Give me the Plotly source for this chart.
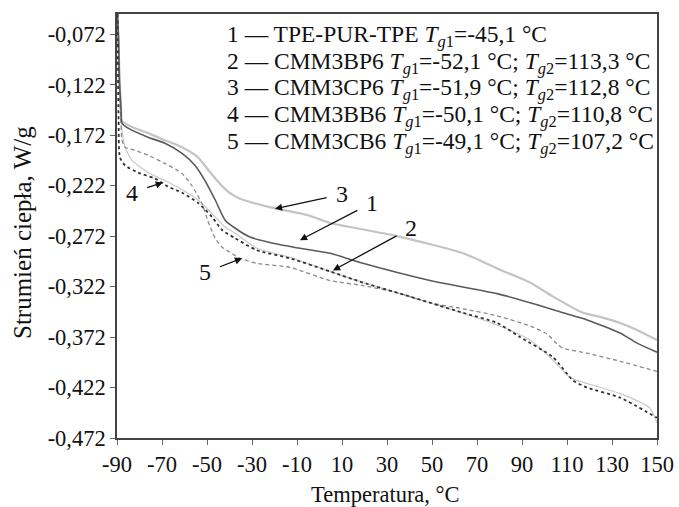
import plotly.graph_objects as go

# ---- data ----
x1 = [-89.8,-89.3,-88.9,-88.2,-87.8,-85.1,-76.2,-68.7,-61.1,-55.3,-50.9,-46.4,-42.0,-37.6,-30.9,-20.7,-8.7,4.7,19.3,49.1,78.9,93.6,108.2,118.9,133.6,141.1,150]
y1 = [-0.052,-0.078,-0.117,-0.147,-0.160,-0.165,-0.174,-0.180,-0.190,-0.202,-0.217,-0.236,-0.256,-0.264,-0.273,-0.279,-0.284,-0.289,-0.299,-0.316,-0.329,-0.338,-0.348,-0.355,-0.368,-0.378,-0.387]

x2 = [-89.8,-89.3,-88.9,-88.2,-87.8,-86.4,-83.3,-76.2,-68.7,-61.1,-54.0,-46.4,-42.0,-37.6,-27.8,-13.1,4.7,19.3,49.1,78.9,93.6,103.8,111.3,118.9,133.6,146.7,150]
y2 = [-0.052,-0.088,-0.127,-0.155,-0.167,-0.184,-0.197,-0.209,-0.217,-0.226,-0.236,-0.253,-0.263,-0.269,-0.284,-0.293,-0.307,-0.318,-0.338,-0.360,-0.375,-0.395,-0.412,-0.418,-0.428,-0.442,-0.457]

x3 = [-89.8,-89.3,-88.9,-88.2,-87.8,-83.3,-76.2,-68.7,-61.1,-54.0,-49.6,-45.1,-40.7,-35.3,-20.7,-5.6,4.7,13.6,34.4,63.8,78.9,93.6,103.8,117.1,124.7,133.6,141.1,150]
y3 = [-0.052,-0.078,-0.117,-0.145,-0.158,-0.164,-0.170,-0.177,-0.184,-0.194,-0.206,-0.218,-0.228,-0.235,-0.244,-0.251,-0.259,-0.263,-0.272,-0.289,-0.304,-0.318,-0.332,-0.348,-0.352,-0.358,-0.365,-0.375]

x4 = [-89.8,-89.6,-89.3,-88.7,-86.4,-80.7,-73.1,-67.3,-61.1,-54.0,-47.8,-43.3,-37.6,-27.8,-13.1,4.7,19.3,34.4,49.1,63.8,78.9,89.1,103.8,112.7,118.9,133.6,150]
y4 = [-0.052,-0.098,-0.157,-0.194,-0.202,-0.209,-0.215,-0.223,-0.229,-0.239,-0.253,-0.266,-0.274,-0.286,-0.294,-0.307,-0.318,-0.328,-0.338,-0.348,-0.358,-0.372,-0.392,-0.415,-0.422,-0.432,-0.452]

x5 = [-89.8,-89.3,-88.9,-88.2,-87.8,-86.4,-82.0,-76.2,-68.7,-61.1,-56.7,-52.2,-49.6,-46.4,-43.3,-39.8,-35.3,-27.8,-13.1,4.7,19.3,34.4,49.1,63.8,78.9,93.6,101.1,105.6,108.2,118.9,133.6,150]
y5 = [-0.052,-0.088,-0.127,-0.162,-0.177,-0.184,-0.187,-0.192,-0.200,-0.210,-0.222,-0.240,-0.257,-0.274,-0.283,-0.288,-0.294,-0.299,-0.303,-0.316,-0.321,-0.328,-0.338,-0.344,-0.351,-0.361,-0.369,-0.379,-0.383,-0.388,-0.396,-0.406]

x_ticks = [-90,-70,-50,-30,-10,10,30,50,70,90,110,130,150]
x_tick_text = ["-90","-70","-50","-30","-10","10","30","50","70","90","110","130","150"]
y_ticks = [-0.072,-0.122,-0.172,-0.222,-0.272,-0.322,-0.372,-0.422,-0.472]
y_tick_text = ["-0,072","-0,122","-0,172","-0,222","-0,272","-0,322","-0,372","-0,422","-0,472"]

legend_lines = [
    "1 — TPE-PUR-TPE <i>T</i><sub><i>g</i>1</sub>=-45,1 °C",
    "2 — CMM3BP6 <i>T</i><sub><i>g</i>1</sub>=-52,1 °C; <i>T</i><sub><i>g</i>2</sub>=113,3 °C",
    "3 — CMM3CP6 <i>T</i><sub><i>g</i>1</sub>=-51,9 °C; <i>T</i><sub><i>g</i>2</sub>=112,8 °C",
    "4 — CMM3BB6 <i>T</i><sub><i>g</i>1</sub>=-50,1 °C; <i>T</i><sub><i>g</i>2</sub>=110,8 °C",
    "5 — CMM3CB6 <i>T</i><sub><i>g</i>1</sub>=-49,1 °C; <i>T</i><sub><i>g</i>2</sub>=107,2 °C",
]

# curve labels: (text, head x, head y, tail x, tail y)
labels = [
    ("4", -69.6, -0.219, -83.3, -0.229),
    ("3", -19.8, -0.245, 10.0, -0.2305),
    ("1", -8.7, -0.276, 23.3, -0.239),
    ("2", 6.0, -0.306, 40.7, -0.264),
    ("5", -34.4, -0.294, -50.9, -0.308),
]

FONT = "Liberation Serif"

fig = go.Figure()
styles = [
    (x3, y3, dict(color="#c4c4c4", width=2.2)),
    (x2, y2, dict(color="#c8c8c8", width=1.2)),
    (x5, y5, dict(color="#8a8a8a", width=1.3, dash="4px,3px")),
    (x1, y1, dict(color="#5a5a5a", width=1.6)),
    (x4, y4, dict(color="#333333", width=1.8, dash="dot")),
]
for xs, ys, ln in styles:
    fig.add_trace(go.Scatter(x=xs, y=ys, mode="lines", line=dict(shape="spline", smoothing=0.6, **ln),
                             showlegend=False, hoverinfo="skip"))

W, H = 679, 507
L, R, T, B = 117, 22, 14, 69
PW, PH = W - L - R, H - T - B

def px2paper(px, py):
    return (px - L) / PW, 1 - (py - T) / PH

annotations = []
for i, t in enumerate(legend_lines):
    ax_, ay_ = px2paper(225, 36 + 26.7 * i)
    annotations.append(dict(text=t, xref="paper", yref="paper", x=ax_, y=ay_,
                            xanchor="left", yanchor="middle", showarrow=False,
                            font=dict(family=FONT, size=23.5, color="#111")))
for t, hx, hy, tx, ty in labels:
    annotations.append(dict(text=t, x=hx, y=hy, ax=tx, ay=ty, xref="x", yref="y",
                            axref="x", ayref="y", showarrow=True, arrowhead=2,
                            arrowsize=1.1, arrowwidth=1.3, arrowcolor="#111", standoff=0,
                            startstandoff=8,
                            font=dict(family=FONT, size=24, color="#111")))
# y axis title
tx_, ty_ = px2paper(22, 233)
annotations.append(dict(text="Strumień ciepła, W/g", xref="paper", yref="paper", x=tx_, y=ty_,
                        xanchor="center", yanchor="middle", textangle=-90, showarrow=False,
                        font=dict(family=FONT, size=25, color="#111")))
# x axis title
tx_, ty_ = px2paper(385, 494)
annotations.append(dict(text="Temperatura, °C", xref="paper", yref="paper", x=tx_, y=ty_,
                        xanchor="center", yanchor="middle", showarrow=False,
                        font=dict(family=FONT, size=22.5, color="#111")))

fig.update_layout(
    width=W, height=H,
    margin=dict(l=L, r=R, t=T, b=B),
    paper_bgcolor="white", plot_bgcolor="white",
    font=dict(family=FONT, size=22, color="#111"),
    annotations=annotations,
    xaxis=dict(range=[-90, 150], tickvals=x_ticks, ticktext=x_tick_text, ticks="outside", ticklen=5,
               tickcolor="#666", showline=True, mirror=True, linecolor="#444", linewidth=1.5,
               showgrid=False, zeroline=False, automargin=False,
               tickfont=dict(family=FONT, size=22.5, color="#111")),
    yaxis=dict(range=[-0.472, -0.052], tickvals=y_ticks, ticktext=y_tick_text,
               ticks="outside", ticklen=5, tickcolor="#666", showline=True, mirror=True,
               linecolor="#444", linewidth=1.5, showgrid=False, zeroline=False, automargin=False,
               tickfont=dict(family=FONT, size=22.5, color="#111")),
)

fig.write_html("out.html")
